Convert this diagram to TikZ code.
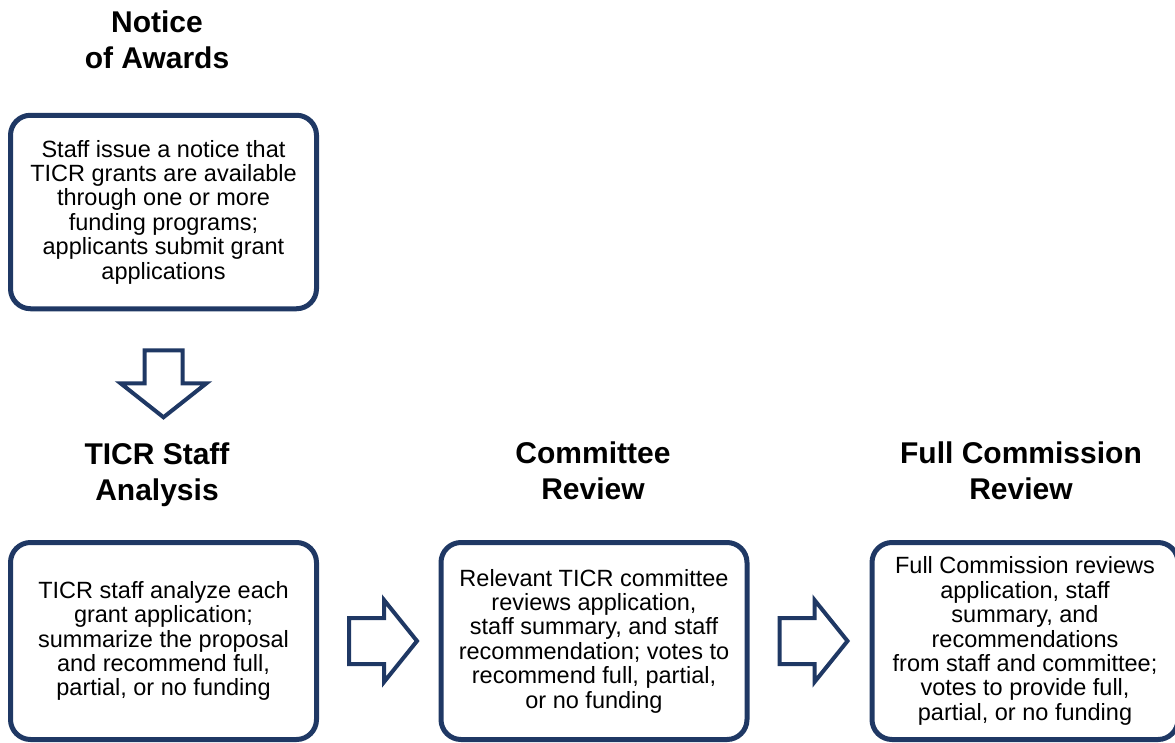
\documentclass[tikz,border=0pt]{standalone}
\usepackage{fontspec}
\setmainfont{Liberation Sans}
\usetikzlibrary{calc}

\definecolor{navy}{RGB}{31,56,100}

\tikzset{
  rightarrow/.pic={\draw[blockarrow] (0,-23) -- (35,-23) -- (35,-41) -- (68,0) -- (35,41) -- (35,23) -- (0,23) -- cycle;},
  downarrow/.pic={\draw[blockarrow] (-19,0) -- (19,0) -- (19,33) -- (43,33) -- (0,67) -- (-43,33) -- (-19,33) -- cycle;}
}

\begin{document}
\begin{tikzpicture}[x=1pt, y=-1pt,
  stage/.style={draw=navy, line width=5pt, rounded corners=20pt, minimum width=306pt, minimum height=197pt, align=center, font=\fontsize{23.5}{24.4}\selectfont},
  heading/.style={align=center, font=\bfseries\fontsize{30}{36}\selectfont},
  blockarrow/.style={draw=navy, line width=4pt, line join=miter}]
  \useasboundingbox (0,0) rectangle (1175,742);
  % headings
  \node[heading] (h1) at (157,40) {Notice\\of Awards};
  \node[heading] (h2) at (157,474.5) {TICR Staff\\Analysis};
  \node[heading] (h3) at (593,471) {Committee\\Review};
  \node[heading] (h4) at (1021,471) {Full Commission\\Review};
  % stage boxes
  \node[stage, minimum height=193.5pt] (notice) at (163.5,212) {Staff issue a notice that\\TICR grants are available\\through one or more\\funding programs;\\applicants submit grant\\applications};
  \node[stage] (staff) at (163.5,641) {TICR staff analyze each\\grant application;\\summarize the proposal\\and recommend full,\\partial, or no funding};
  \node[stage] (committee) at (594,641) {Relevant TICR committee\\reviews application,\\staff summary, and staff\\recommendation; votes to\\recommend full, partial,\\or no funding};
  \node[stage] (commission) at (1025,641) {Full Commission reviews\\application, staff\\summary, and\\recommendations\\from staff and committee;\\votes to provide full,\\partial, or no funding};
  % block arrows between the stages
  \pic at ([yshift=-39pt]notice.south) {downarrow};
  \pic at ([xshift=30pt]staff.east) {rightarrow};
  \pic at ([xshift=30pt]committee.east) {rightarrow};
\end{tikzpicture}
\end{document}
